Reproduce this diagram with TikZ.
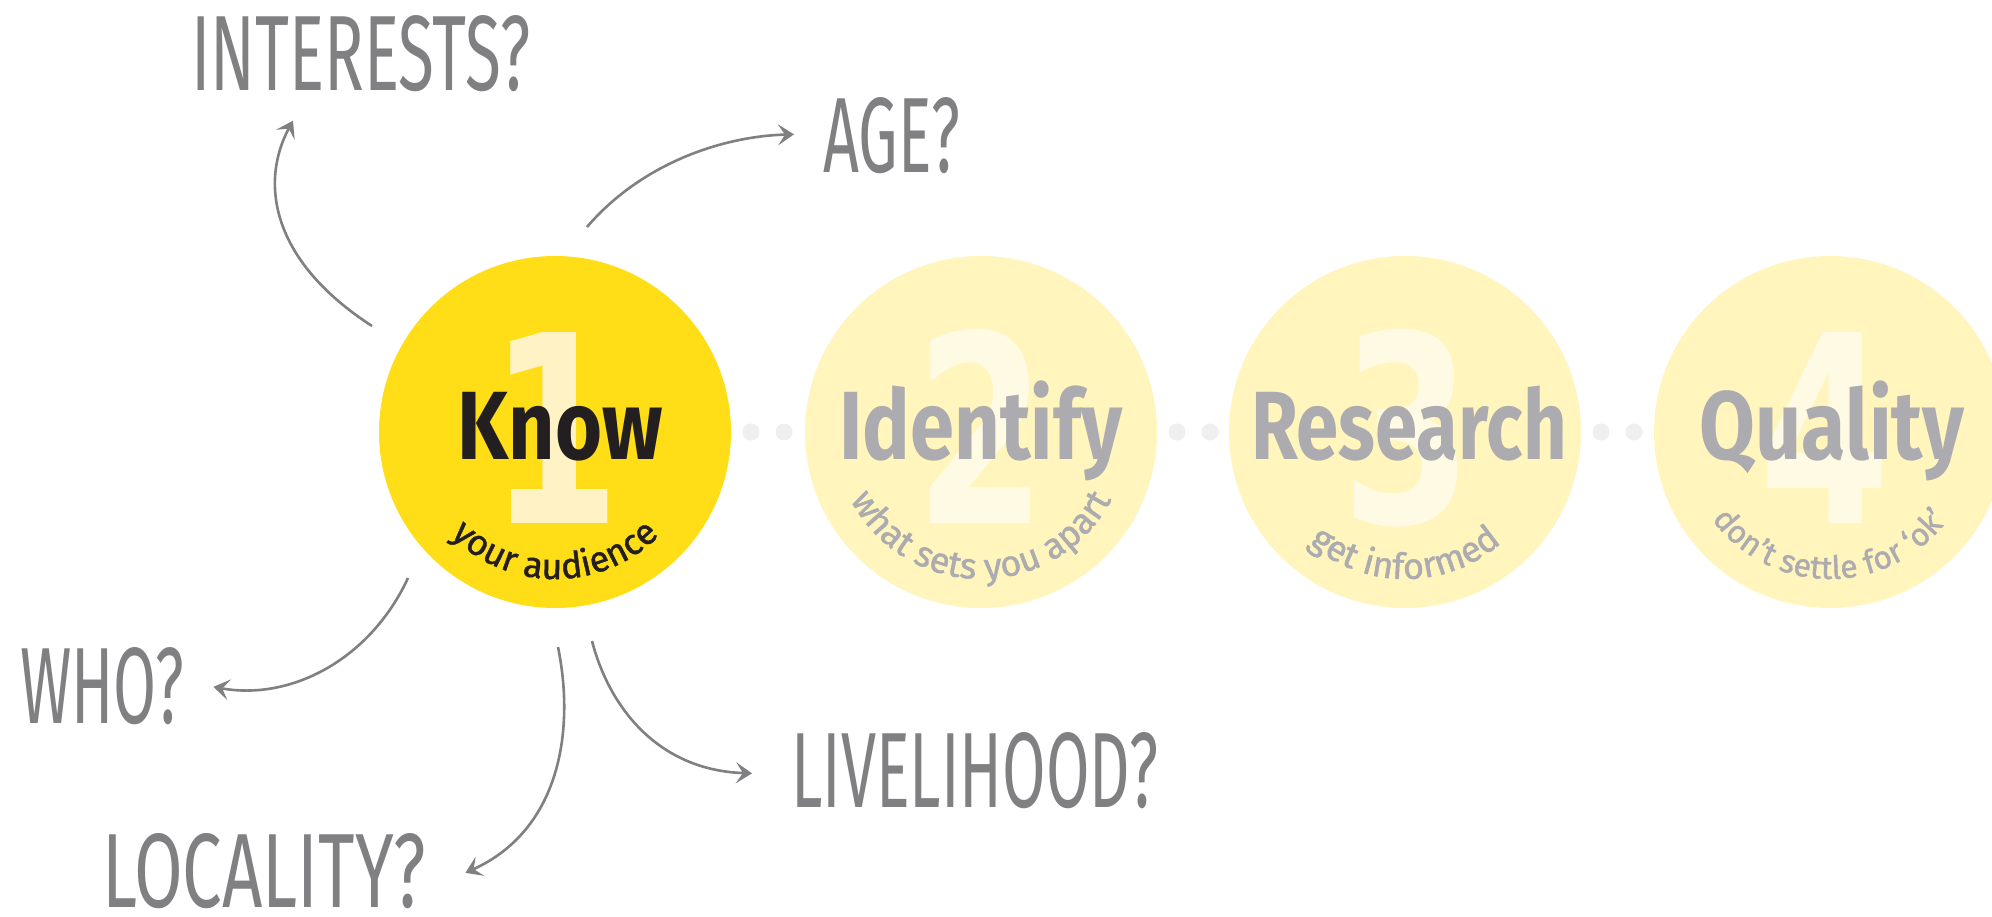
\documentclass[tikz,border=0pt]{standalone}
\usepackage{fontspec}
\usetikzlibrary{arrows.meta,decorations.text}
\setmainfont{Fira Sans}
\newfontfamily\digitfont{DejaVu Sans}
\newfontfamily\handfont{Fira Sans}
\newfontfamily\subfnt{Fira Sans}[FakeBold=1.2]
\newcommand\subfont{\subfnt\fontsize{36}{36}\selectfont}
\newcommand\subfontsmall{\subfnt\fontsize{32}{32}\selectfont}
\newcommand\bigdigit[1]{\scalebox{0.72}[1]{#1}}

\definecolor{sunyellow}{HTML}{FFDD17}
\definecolor{paleyellow}{HTML}{FFF5BD}
\definecolor{creamdigit}{HTML}{FFF3C6}
\definecolor{palecream}{HTML}{FFFAE3}
\definecolor{inkdark}{HTML}{231F20}
\definecolor{mutedgray}{HTML}{ABABB0}
\definecolor{pencil}{HTML}{808083}
\definecolor{dotgray}{HTML}{EFEFEF}

\tikzset{
  disc/.style={circle, inner sep=0pt, minimum size=352pt},
  digit/.style={font=\digitfont\bfseries\fontsize{262}{262}\selectfont, inner sep=0pt, anchor=base},
  title/.style={font=\bfseries\fontsize{97}{97}\selectfont, inner sep=0pt, anchor=base},
  hand/.style={font=\handfont\fontsize{100}{100}\selectfont, text=pencil, inner sep=0pt, anchor=north west},
  pencilarrow/.style={draw=pencil, line width=2.6pt, -{Stealth[length=16pt,width=21pt,inset=7pt]}},
  joiner/.style={circle, fill=dotgray, inner sep=0pt, minimum size=17pt},
  arcnote/.style={decorate, decoration={text along path, text align=center, text color=#1}},
}

\begin{document}
\begin{tikzpicture}[x=1pt,y=-1pt]
\useasboundingbox (0,0) rectangle (1992,916);
\clip (0,0) rectangle (1992,916);
\fill[white] (0,0) rectangle (1992,916);

% the four steps
\node[disc, fill=sunyellow]  (step1) at (555,432) {};
\node[disc, fill=paleyellow] (step2) at (981,432) {};
\node[disc, fill=paleyellow] (step3) at (1405,432) {};
\node[disc, fill=paleyellow] (step4) at (1830,432) {};

% dotted joins between the steps
\node[joiner] (j1a) at (751,432) {};
\node[joiner] (j1b) at (784,432) {};
\node[joiner] (j2a) at (1177,432) {};
\node[joiner] (j2b) at (1210,432) {};
\node[joiner] (j3a) at (1601,432) {};
\node[joiner] (j3b) at (1634,432) {};

% big numerals behind the titles
\node[digit, text=creamdigit] (n1) at (555,523) {\bigdigit{1}};
\node[digit, text=palecream]  (n2) at (981,523) {\bigdigit{2}};
\node[digit, text=palecream]  (n3) at (1407,523) {\bigdigit{3}};
\node[digit, text=palecream]  (n4) at (1825,523) {\bigdigit{4}};

% titles
\node[title, text=inkdark]   (t1) at (560,459)  {\resizebox{205pt}{\height}{Know}};
\node[title, text=mutedgray] (t2) at (981,459)  {\resizebox{283pt}{\height}{Identify}};
\node[title, text=mutedgray] (t3) at (1409,459) {\resizebox{316pt}{\height}{Research}};
\node[title, text=mutedgray] (t4) at (1832,459) {\resizebox{265pt}{\height}{Quality}};

% curved subtitles
\path[arcnote=inkdark, decoration={text={|\subfont|your audience}}]
  ([shift={(180:147)}]step1.center) arc[start angle=180, end angle=0, radius=147];
\path[arcnote=mutedgray, decoration={text={|\subfont|what sets you apart}}]
  ([shift={(180:147)}]step2.center) arc[start angle=180, end angle=0, radius=147];
\path[arcnote=mutedgray, decoration={text={|\subfont|get informed}}]
  ([shift={(180:147)}]step3.center) arc[start angle=180, end angle=0, radius=147];
\path[arcnote=mutedgray, decoration={text={|\subfontsmall|don’t settle for ‘ok’}}]
  ([shift={(180:147)}]step4.center) arc[start angle=180, end angle=0, radius=147];

% questions around the first step
\node[hand] (interests)  at (191,15)  {\resizebox{339pt}{75pt}{INTERESTS?}};
\node[hand] (age)        at (823,97)  {\resizebox{137pt}{75pt}{AGE?}};
\node[hand] (who)        at (20,647)  {\resizebox{164pt}{76pt}{WHO?}};
\node[hand] (locality)   at (102,833) {\resizebox{324pt}{74pt}{LOCALITY?}};
\node[hand] (livelihood) at (791,732) {\resizebox{367pt}{75pt}{LIVELIHOOD?}};

% arrow ends
\coordinate (s1) at ([shift={(-183,-106)}]step1.center);
\coordinate (s2) at ([shift={(32,-205)}]step1.center);
\coordinate (s3) at ([shift={(-147,146)}]step1.center);
\coordinate (s4) at ([shift={(3,215)}]step1.center);
\coordinate (s5) at ([shift={(37,209)}]step1.center);
\coordinate (e1) at ([shift={(102,29)}]interests.south west);
\coordinate (e2) at ([shift={(-29,-1)}]age.west);
\coordinate (e3) at ([shift={(29,1)}]who.east);
\coordinate (e4) at ([shift={(39,2)}]locality.east);
\coordinate (e5) at ([shift={(-39,3)}]livelihood.west);

\draw[pencilarrow] (s1) .. controls +(-102,-66) and +(-33,61) .. (e1);
\draw[pencilarrow] (s2) .. controls +(53,-62) and +(-74,2) .. (e2);
\draw[pencilarrow] (s3) .. controls +(-38,82) and +(77,14) .. (e3);
\draw[pencilarrow] (s4) .. controls +(17,83) and +(95,-43) .. (e4);
\draw[pencilarrow] (s5) .. controls +(18,69) and +(-92,-3) .. (e5);
\end{tikzpicture}
\end{document}
